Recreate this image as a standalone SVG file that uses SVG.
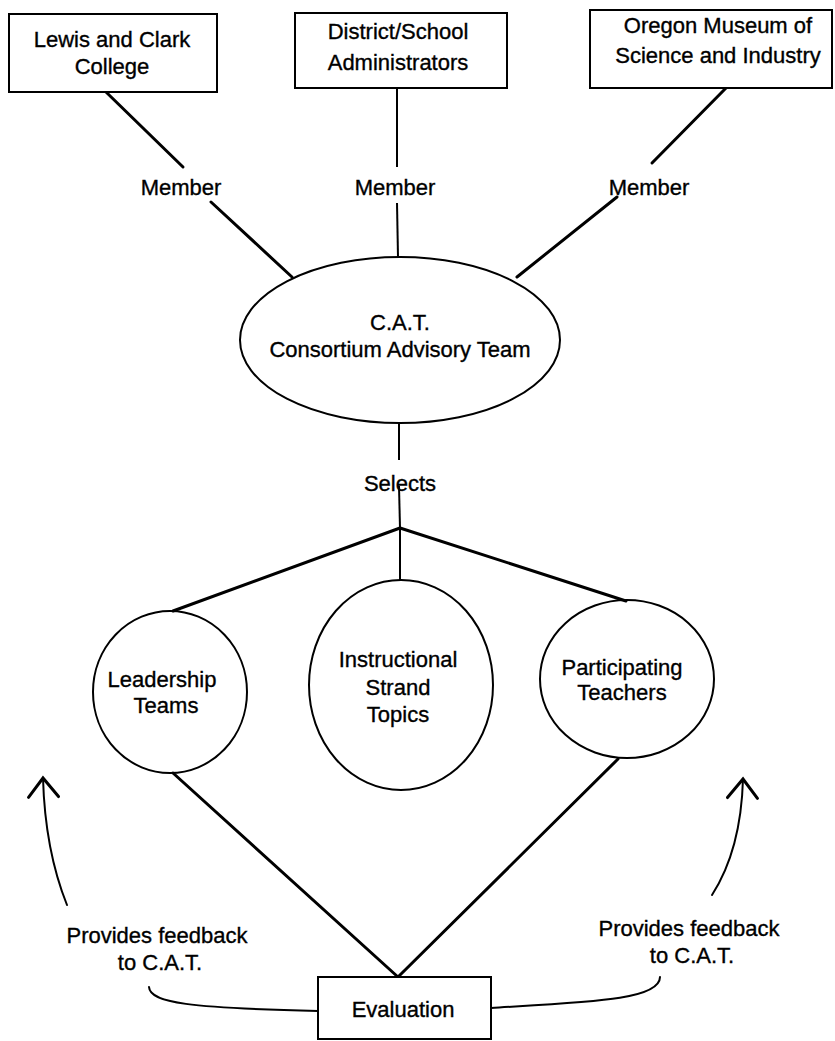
<svg xmlns="http://www.w3.org/2000/svg" width="835" height="1041" viewBox="0 0 835 1041">
  <defs>
    <style>
      .bg { fill: #ffffff; }
      .box { fill: #ffffff; stroke: #000000; stroke-width: 2; }
      .shape { fill: none; stroke: #000000; stroke-width: 2; }
      .link { fill: none; stroke: #000000; stroke-width: 3; stroke-linecap: round; }
      .stem { fill: none; stroke: #000000; stroke-width: 2; stroke-linecap: butt; }
      .loop { fill: none; stroke: #000000; stroke-width: 2; stroke-linecap: round; }
      text { font-family: "Liberation Sans", Arial, Helvetica, sans-serif; font-size: 22px; fill: #000000; stroke: #000000; stroke-width: 0.35; text-anchor: middle; }
    </style>
    <marker id="open-arrow" markerUnits="userSpaceOnUse" markerWidth="40" markerHeight="40" refX="0" refY="0" orient="auto" overflow="visible">
      <path d="M-19,-15 L0,0 L-19,15" fill="none" stroke="#000000" stroke-width="3" stroke-linecap="round" stroke-linejoin="miter"/>
    </marker>
  </defs>

  <rect class="bg" x="0" y="0" width="835" height="1041"/>

  <!-- connectors -->
  <g id="connectors">
    <!-- members to C.A.T. -->
    <line class="link" x1="106" y1="92" x2="183" y2="167"/>
    <line class="link" x1="211" y1="202" x2="292" y2="277"/>
    <line class="stem" x1="397" y1="88" x2="397" y2="167"/>
    <line class="stem" x1="397" y1="203" x2="398" y2="257"/>
    <line class="link" x1="726" y1="88" x2="652" y2="163"/>
    <line class="link" x1="617" y1="197" x2="517" y2="277"/>
    <!-- C.A.T. selects -->
    <line class="stem" x1="399" y1="423" x2="399" y2="460"/>
    <line class="stem" x1="399" y1="486" x2="400" y2="528"/>
    <line class="link" x1="400" y1="528" x2="173" y2="611"/>
    <line class="link" x1="400" y1="528" x2="626" y2="601"/>
    <line class="stem" x1="400" y1="528" x2="400" y2="580"/>
    <!-- evaluation -->
    <line class="link" x1="173" y1="773" x2="398" y2="977"/>
    <line class="link" x1="618" y1="759" x2="398" y2="977"/>
    <!-- feedback loops -->
    <path class="loop" d="M149,987 C150,1003 190,1008 318,1011"/>
    <path class="loop" d="M491,1008 C590,1002 660,1000 660,977"/>
    <path class="loop" d="M67,905 Q45,850 43,778" marker-end="url(#open-arrow)"/>
    <path class="loop" d="M712,895 Q741,850 743,779" marker-end="url(#open-arrow)"/>
  </g>

  <!-- connector labels -->
  <g id="labels">
    <text x="181" y="195">Member</text>
    <text x="395" y="195">Member</text>
    <text x="649" y="195">Member</text>
    <text x="400" y="491">Selects</text>
    <text x="157" y="943">Provides feedback</text>
    <text x="160" y="970">to C.A.T.</text>
    <text x="689" y="936">Provides feedback</text>
    <text x="692" y="963">to C.A.T.</text>
  </g>

  <g id="lewis-clark">
    <rect class="box" x="9" y="14" width="208" height="78"/>
    <text x="112" y="47">Lewis and Clark</text>
    <text x="112" y="74">College</text>
  </g>

  <g id="district-school">
    <rect class="box" x="295" y="13" width="212" height="75"/>
    <text x="398" y="39">District/School</text>
    <text x="398" y="70">Administrators</text>
  </g>

  <g id="omsi">
    <rect class="box" x="590" y="10" width="242" height="78"/>
    <text x="718" y="33">Oregon Museum of</text>
    <text x="718" y="63">Science and Industry</text>
  </g>

  <g id="cat">
    <ellipse class="shape" cx="400" cy="340" rx="160" ry="83"/>
    <text x="400" y="330">C.A.T.</text>
    <text x="400" y="357">Consortium Advisory Team</text>
  </g>

  <g id="leadership">
    <ellipse class="shape" cx="170" cy="692" rx="77" ry="81"/>
    <text x="162" y="687">Leadership</text>
    <text x="166" y="713">Teams</text>
  </g>

  <g id="strand-topics">
    <ellipse class="shape" cx="401" cy="685" rx="92" ry="105"/>
    <text x="398" y="667">Instructional</text>
    <text x="398" y="695">Strand</text>
    <text x="398" y="722">Topics</text>
  </g>

  <g id="participating">
    <ellipse class="shape" cx="627" cy="679" rx="87" ry="79"/>
    <text x="622" y="675">Participating</text>
    <text x="622" y="700">Teachers</text>
  </g>

  <g id="evaluation">
    <rect class="box" x="318" y="977" width="173" height="62"/>
    <text x="403" y="1017">Evaluation</text>
  </g>
</svg>
